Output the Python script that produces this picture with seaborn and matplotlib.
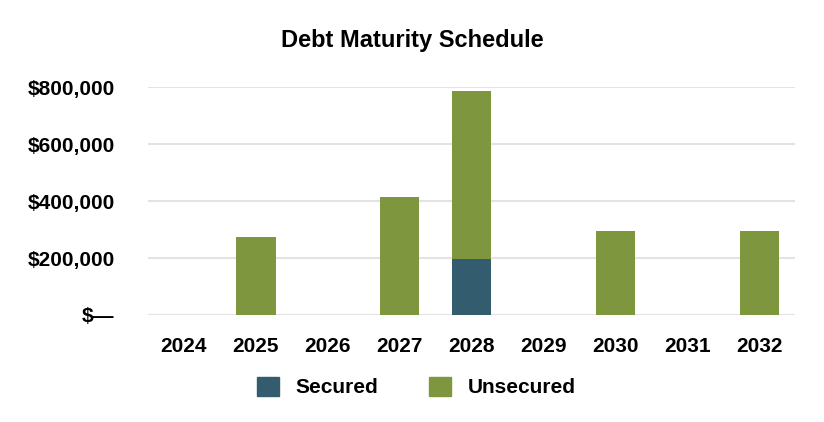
import matplotlib
matplotlib.use('Agg')
import matplotlib.pyplot as plt
import matplotlib.ticker as mticker
from matplotlib.patches import Patch
import seaborn as sns
import pandas as pd

# Debt maturities by year (USD)
years = ['2024', '2025', '2026', '2027', '2028', '2029', '2030', '2031', '2032']
secured = [0, 0, 0, 0, 196000, 0, 0, 0, 0]
unsecured = [0, 273000, 0, 413000, 590000, 0, 295000, 0, 295000]

secured_color = '#335C6E'
unsecured_color = '#7E973F'

df = pd.DataFrame({'year': years, 'secured': secured, 'unsecured': unsecured})
df['total'] = df['secured'] + df['unsecured']

sns.set_style('white')
plt.rcParams['font.family'] = ['Liberation Sans', 'DejaVu Sans']
plt.rcParams['font.weight'] = 'bold'
plt.rcParams['text.color'] = 'black'
plt.rcParams['xtick.color'] = 'black'
plt.rcParams['ytick.color'] = 'black'

fig = plt.figure(figsize=(8.24, 4.22), dpi=100)
ax = fig.add_axes([0.1796, 0.2536, 0.7855, 0.5395])

# stacked look: full height in green, secured part drawn over the base
sns.barplot(data=df, x='year', y='total', color=unsecured_color, width=0.55,
            saturation=1, linewidth=0, ax=ax, zorder=2)
sns.barplot(data=df, x='year', y='secured', color=secured_color, width=0.55,
            saturation=1, linewidth=0, ax=ax, zorder=3)

ax.set_ylim(0, 800000)
ax.set_yticks([0, 200000, 400000, 600000, 800000])
ax.yaxis.set_major_formatter(mticker.FuncFormatter(
    lambda v, p: '$\u2014' if v == 0 else f'${v:,.0f}'))
ax.grid(axis='y', color='#E3E3E3', linewidth=1.5, zorder=0)
ax.set_axisbelow(True)
for s in ax.spines.values():
    s.set_visible(False)
ax.tick_params(axis='both', length=0, labelsize=15, labelcolor='black')
ax.tick_params(axis='y', pad=24)
ax.tick_params(axis='x', pad=16)
ax.set_xlabel('')
ax.set_ylabel('')

fig.text(0.5, 0.905, 'Debt Maturity Schedule', ha='center', va='center',
         fontsize=17, fontweight='bold', color='black')

handles = [Patch(color=secured_color, label='Secured'),
           Patch(color=unsecured_color, label='Unsecured')]
leg = fig.legend(handles=handles, loc='center', bbox_to_anchor=(0.505, 0.083), ncol=2,
                 frameon=False, fontsize=15, handlelength=1.05, handleheight=1.05,
                 handletextpad=0.8, columnspacing=2.45)
for t in leg.get_texts():
    t.set_color('black')

fig.savefig('out.png', dpi=100)
